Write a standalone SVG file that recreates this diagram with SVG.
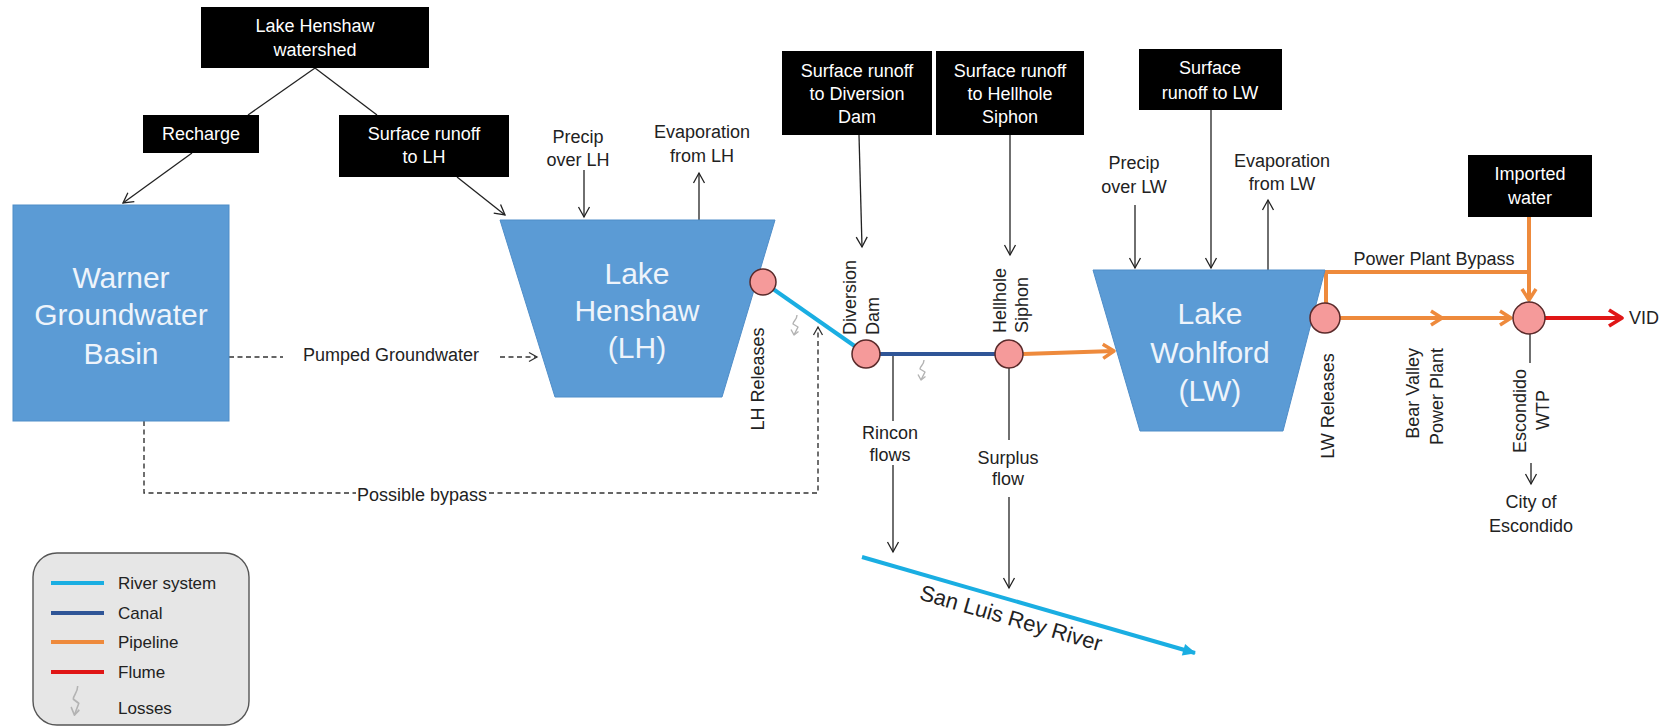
<svg xmlns="http://www.w3.org/2000/svg" width="1669" height="728" viewBox="0 0 1669 728">
  <style>
    text { font-family: "Liberation Sans", Arial, sans-serif; dominant-baseline: central; }
    .bx { fill: #000; }
    .bxt { fill: #fff; font-size: 18px; text-anchor: middle; }
    .lbl { fill: #222; font-size: 18px; text-anchor: middle; }
    .big { fill: #eef4fb; font-size: 30px; text-anchor: middle; }
    .leg { fill: #222; font-size: 17px; }
    .water { fill: #5b9bd5; stroke: #4f8dc8; stroke-width: 1; }
    .node { fill: #f59a9a; stroke: #5a2a2a; stroke-width: 1.5; }
    .flow { fill: none; stroke: #222; stroke-width: 1.3; }
    .dash { fill: none; stroke: #333; stroke-width: 1.4; stroke-dasharray: 5 3.5; }
    .river { fill: none; stroke: #1aaee2; stroke-width: 4; }
    .canal { fill: none; stroke: #2f5597; stroke-width: 4; }
    .pipe { fill: none; stroke: #ee8a3c; stroke-width: 4; }
    .flume { fill: none; stroke: #e01616; stroke-width: 4; }
    .loss { fill: none; stroke: #b3b3b3; stroke-width: 1.4; stroke-linejoin: round; }
  </style>
  <defs>
    <marker id="ahBlack" markerUnits="userSpaceOnUse" markerWidth="14" markerHeight="14" refX="11" refY="6" orient="auto" overflow="visible">
      <path d="M1,0.5 L11,6 L1,11.5" fill="none" stroke="#222" stroke-width="1.3"/>
    </marker>
    <marker id="ahDash" markerUnits="userSpaceOnUse" markerWidth="12" markerHeight="12" refX="9" refY="5" orient="auto" overflow="visible">
      <path d="M1,0.5 L9,5 L1,9.5" fill="none" stroke="#333" stroke-width="1.3"/>
    </marker>
    <marker id="ahPipe" markerUnits="userSpaceOnUse" markerWidth="16" markerHeight="18" refX="12" refY="8" orient="auto" overflow="visible">
      <path d="M1,1 L12,8 L1,15" fill="none" stroke="#ee8a3c" stroke-width="3.5" stroke-linejoin="round"/>
    </marker>
    <marker id="ahFlume" markerUnits="userSpaceOnUse" markerWidth="18" markerHeight="20" refX="14" refY="9" orient="auto" overflow="visible">
      <path d="M1,1 L14,9 L1,17" fill="none" stroke="#e01616" stroke-width="3.8" stroke-linejoin="round"/>
    </marker>
    <marker id="ahRiver" markerUnits="userSpaceOnUse" markerWidth="16" markerHeight="14" refX="12" refY="6" orient="auto" overflow="visible">
      <path d="M0,0 L13,6 L0,12 Z" fill="#1aaee2"/>
    </marker>
    <!-- small zig-zag arrow used for losses -->
    <g id="lossSym">
      <path class="loss" d="M7,0 C7,5 3,6 3,9 L8,12 L4,20"/>
      <path class="loss" d="M1,14.5 L4,20 L8.5,16.5"/>
    </g>
  </defs>

  <!-- connectors -->
  <g id="connectors">
    <!-- watershed split -->
    <line class="flow" x1="315" y1="68" x2="248" y2="115"/>
    <line class="flow" x1="315" y1="68" x2="377" y2="115"/>
    <line class="flow" x1="192" y1="153" x2="123" y2="203" marker-end="url(#ahBlack)"/>
    <line class="flow" x1="457" y1="177" x2="505" y2="215" marker-end="url(#ahBlack)"/>
    <!-- precipitation / evaporation -->
    <line class="flow" x1="584" y1="170" x2="584" y2="217" marker-end="url(#ahBlack)"/>
    <line class="flow" x1="699" y1="221" x2="699" y2="173" marker-end="url(#ahBlack)"/>
    <line class="flow" x1="1135" y1="205" x2="1135" y2="268" marker-end="url(#ahBlack)"/>
    <line class="flow" x1="1268" y1="270" x2="1268" y2="200" marker-end="url(#ahBlack)"/>
    <!-- surface runoff inflows -->
    <line class="flow" x1="859" y1="135" x2="862" y2="247" marker-end="url(#ahBlack)"/>
    <line class="flow" x1="1010" y1="135" x2="1010" y2="255" marker-end="url(#ahBlack)"/>
    <line class="flow" x1="1211" y1="110" x2="1211" y2="268" marker-end="url(#ahBlack)"/>
    <!-- outflows to the river -->
    <line class="flow" x1="893" y1="356" x2="893" y2="421"/>
    <line class="flow" x1="893" y1="465" x2="893" y2="552" marker-end="url(#ahBlack)"/>
    <line class="flow" x1="1009" y1="368" x2="1009" y2="440"/>
    <line class="flow" x1="1009" y1="497" x2="1009" y2="588" marker-end="url(#ahBlack)"/>
    <!-- delivery to city -->
    <line class="flow" x1="1530" y1="334" x2="1530" y2="363"/>
    <line class="flow" x1="1531" y1="463" x2="1531" y2="484" marker-end="url(#ahBlack)"/>

    <!-- groundwater paths -->
    <line class="dash" x1="229" y1="357" x2="283" y2="357"/>
    <line class="dash" x1="500" y1="357" x2="537" y2="357" marker-end="url(#ahDash)"/>
    <polyline class="dash" points="144,421 144,493 356,493"/>
    <polyline class="dash" points="489,493 818,493 818,327" marker-end="url(#ahDash)"/>

    <!-- river, canal, pipelines, flume -->
    <line class="river" x1="763" y1="282" x2="866" y2="354"/>
    <line class="canal" x1="866" y1="354" x2="1009" y2="354"/>
    <line class="pipe" x1="1023" y1="354" x2="1114" y2="351" marker-end="url(#ahPipe)"/>
    <line class="pipe" x1="1340" y1="318" x2="1442" y2="318" marker-end="url(#ahPipe)"/>
    <line class="pipe" x1="1442" y1="318" x2="1511" y2="318" marker-end="url(#ahPipe)"/>
    <polyline class="pipe" points="1326,304 1326,272 1529,272"/>
    <line class="pipe" x1="1529" y1="217" x2="1529" y2="300" marker-end="url(#ahPipe)"/>
    <line class="flume" x1="1545" y1="318" x2="1622" y2="318" marker-end="url(#ahFlume)"/>
    <line class="river" x1="862" y1="557" x2="1195" y2="653" marker-end="url(#ahRiver)"/>

    <!-- losses -->
    <use href="#lossSym" x="790" y="315"/>
    <use href="#lossSym" x="917" y="360"/>
  </g>

  <!-- source boxes -->
  <g id="watershed">
    <rect class="bx" x="201" y="7" width="228" height="61"/>
    <text class="bxt" x="315" y="26">Lake Henshaw</text>
    <text class="bxt" x="315" y="50">watershed</text>
  </g>
  <g id="recharge">
    <rect class="bx" x="143" y="115" width="116" height="38"/>
    <text class="bxt" x="201" y="134">Recharge</text>
  </g>
  <g id="runoff-lh">
    <rect class="bx" x="339" y="115" width="170" height="62"/>
    <text class="bxt" x="424" y="134">Surface runoff</text>
    <text class="bxt" x="424" y="157">to LH</text>
  </g>
  <g id="runoff-dd">
    <rect class="bx" x="782" y="51" width="150" height="84"/>
    <text class="bxt" x="857" y="71">Surface runoff</text>
    <text class="bxt" x="857" y="94">to Diversion</text>
    <text class="bxt" x="857" y="117">Dam</text>
  </g>
  <g id="runoff-hs">
    <rect class="bx" x="936" y="51" width="148" height="84"/>
    <text class="bxt" x="1010" y="71">Surface runoff</text>
    <text class="bxt" x="1010" y="94">to Hellhole</text>
    <text class="bxt" x="1010" y="117">Siphon</text>
  </g>
  <g id="runoff-lw">
    <rect class="bx" x="1139" y="49" width="143" height="61"/>
    <text class="bxt" x="1210" y="68">Surface</text>
    <text class="bxt" x="1210" y="93">runoff to LW</text>
  </g>
  <g id="imported">
    <rect class="bx" x="1468" y="155" width="124" height="62"/>
    <text class="bxt" x="1530" y="174">Imported</text>
    <text class="bxt" x="1530" y="198">water</text>
  </g>

  <!-- storages -->
  <g id="warner">
    <rect class="water" x="13" y="205" width="216" height="216"/>
    <text class="big" x="121" y="277">Warner</text>
    <text class="big" x="121" y="314">Groundwater</text>
    <text class="big" x="121" y="353">Basin</text>
  </g>
  <g id="henshaw">
    <polygon class="water" points="500,220 775,220 722,397 555,397"/>
    <text class="big" x="637" y="273">Lake</text>
    <text class="big" x="637" y="310">Henshaw</text>
    <text class="big" x="637" y="347">(LH)</text>
  </g>
  <g id="wohlford">
    <polygon class="water" points="1093,270 1325,270 1283,431 1140,431"/>
    <text class="big" x="1210" y="313">Lake</text>
    <text class="big" x="1210" y="352">Wohlford</text>
    <text class="big" x="1210" y="390">(LW)</text>
  </g>

  <!-- junction nodes -->
  <g id="lh-release"><circle class="node" cx="763" cy="282" r="13"/></g>
  <g id="diversion-dam"><circle class="node" cx="866" cy="354" r="14"/></g>
  <g id="hellhole-siphon"><circle class="node" cx="1009" cy="354" r="14"/></g>
  <g id="lw-release"><circle class="node" cx="1325" cy="318" r="15"/></g>
  <g id="escondido-wtp"><circle class="node" cx="1529" cy="318" r="16"/></g>

  <!-- labels -->
  <g id="labels">
    <text class="lbl" x="578" y="137">Precip</text>
    <text class="lbl" x="578" y="160">over LH</text>
    <text class="lbl" x="702" y="132">Evaporation</text>
    <text class="lbl" x="702" y="156">from LH</text>
    <text class="lbl" x="1134" y="163">Precip</text>
    <text class="lbl" x="1134" y="187">over LW</text>
    <text class="lbl" x="1282" y="161">Evaporation</text>
    <text class="lbl" x="1282" y="184">from LW</text>
    <text class="lbl" x="391" y="355">Pumped Groundwater</text>
    <text class="lbl" x="422" y="495">Possible bypass</text>
    <text class="lbl" x="890" y="433">Rincon</text>
    <text class="lbl" x="890" y="455">flows</text>
    <text class="lbl" x="1008" y="458">Surplus</text>
    <text class="lbl" x="1008" y="479">flow</text>
    <text class="lbl" x="1434" y="259">Power Plant Bypass</text>
    <text class="lbl" x="1629" y="318" style="text-anchor:start">VID</text>
    <text class="lbl" x="1531" y="502">City of</text>
    <text class="lbl" x="1531" y="526">Escondido</text>

    <text class="lbl" transform="translate(758,379) rotate(-90)">LH Releases</text>
    <text class="lbl" transform="translate(850,335) rotate(-90)" style="text-anchor:start">Diversion</text>
    <text class="lbl" transform="translate(873,335) rotate(-90)" style="text-anchor:start">Dam</text>
    <text class="lbl" transform="translate(1000,333) rotate(-90)" style="text-anchor:start">Hellhole</text>
    <text class="lbl" transform="translate(1022,333) rotate(-90)" style="text-anchor:start">Siphon</text>
    <text class="lbl" transform="translate(1328,406) rotate(-90)">LW Releases</text>
    <text class="lbl" transform="translate(1413,348) rotate(-90)" style="text-anchor:end">Bear Valley</text>
    <text class="lbl" transform="translate(1437,348) rotate(-90)" style="text-anchor:end">Power Plant</text>
    <text class="lbl" transform="translate(1520,411) rotate(-90)">Escondido</text>
    <text class="lbl" transform="translate(1543,410) rotate(-90)">WTP</text>

    <text class="lbl" transform="translate(1011,618) rotate(16)" style="font-size:22px">San Luis Rey River</text>
  </g>

  <!-- legend -->
  <g id="legend">
    <rect x="33" y="553" width="216" height="172" rx="24" ry="24" fill="#e6e6e6" stroke="#555" stroke-width="1.4"/>
    <line class="river" x1="51" y1="583" x2="104" y2="583"/>
    <line class="canal" x1="51" y1="613" x2="104" y2="613"/>
    <line class="pipe" x1="51" y1="642" x2="104" y2="642"/>
    <line class="flume" x1="51" y1="672" x2="104" y2="672"/>
    <use href="#lossSym" transform="translate(70,686) scale(1.1,1.45)"/>
    <text class="leg" x="118" y="583">River system</text>
    <text class="leg" x="118" y="613">Canal</text>
    <text class="leg" x="118" y="642">Pipeline</text>
    <text class="leg" x="118" y="672">Flume</text>
    <text class="leg" x="118" y="708">Losses</text>
  </g>
</svg>
